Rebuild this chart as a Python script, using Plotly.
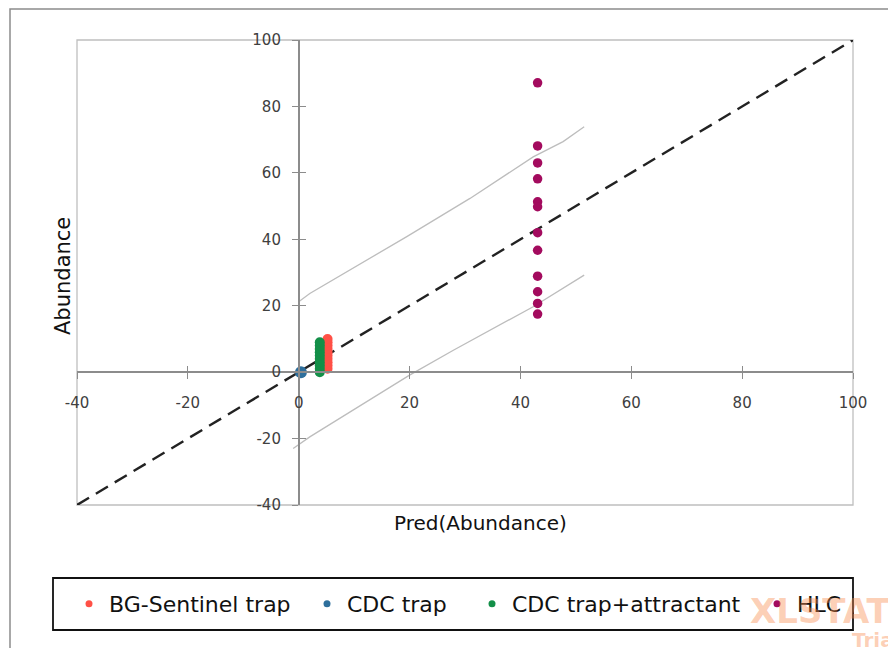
import plotly.graph_objects as go

# ---- data ----
bg_x = [5.2] * 10
bg_y = [1, 2, 3, 4, 5, 6, 7, 8, 9, 10]
cdc_x = [0.4]
cdc_y = [0]
cdca_x = [3.8] * 10
cdca_y = [0, 1, 2, 3, 4, 5, 6, 7, 8, 9]
hlc_y = [87.1, 68.1, 63.0, 58.2, 51.3, 49.8, 42.0, 36.7, 28.9, 24.2, 20.7, 17.5]
hlc_x = [43.1] * len(hlc_y)

upper_x = [0, 2, 19.5, 30.9, 42.3, 47.7, 51.5]
upper_y = [21.2, 23.7, 40.8, 52.3, 64.8, 69.4, 73.9]
lower_x = [-1, 2, 20, 27.9, 42.3, 51.5]
lower_y = [-23, -19.5, -0.9, 6.6, 19.7, 29.2]

diag = [-40, 100]
tick_vals = [-40, -20, 0, 20, 40, 60, 80, 100]
tick_text = ["-40", "-20", "0", "20", "40", "60", "80", "100"]

series_names = ["BG-Sentinel trap", "CDC trap", "CDC trap+attractant", "HLC"]
series_colors = ["#FF5046", "#2E6F9C", "#138F48", "#A30B5E"]

FONT = "DejaVu Sans"
pos0 = 40 / 140

# page is drawn with an 8px body margin, so the figure is 8px smaller
W, H = 888, 640
ML, MT = 69, 32
PW, PH = 776, 465


def px(xp):  # page x -> paper
    return (xp - 77) / PW


def py(yp):  # page y -> paper
    return (505 - yp) / PH


fig = go.Figure()

fig.add_trace(go.Scatter(x=upper_x, y=upper_y, mode="lines",
                         line=dict(color="#BDBDBD", width=1.3), showlegend=False, hoverinfo="skip"))
fig.add_trace(go.Scatter(x=lower_x, y=lower_y, mode="lines",
                         line=dict(color="#BDBDBD", width=1.3), showlegend=False, hoverinfo="skip"))
fig.add_trace(go.Scatter(x=diag, y=diag, mode="lines",
                         line=dict(color="#222222", width=2.4, dash="14px,8px"), showlegend=False))

data_sets = [(bg_x, bg_y, 10), (cdc_x, cdc_y, 12), (cdca_x, cdca_y, 10), (hlc_x, hlc_y, 9.5)]
legend_ids = ["legend", "legend2", "legend3", "legend4"]
for (xs, ys, sz), name, col, lid in zip(data_sets, series_names, series_colors, legend_ids):
    fig.add_trace(go.Scatter(x=xs, y=ys, mode="markers", name=name,
                             marker=dict(color=col, size=sz), showlegend=False))
    # legend entry with small marker
    fig.add_trace(go.Scatter(x=[None], y=[None], mode="markers", name=name,
                             marker=dict(color=col, size=7), legend=lid, showlegend=True))

# invisible trace for overlay axes (crossing ticks)
fig.add_trace(go.Scatter(x=[0], y=[0], xaxis="x2", yaxis="y2", mode="markers",
                         marker=dict(opacity=0), showlegend=False, hoverinfo="skip"))

axis_common = dict(range=[-40, 100], tickvals=tick_vals, ticktext=tick_text,
                   showgrid=False, zeroline=False,
                   showline=True, linecolor="#8C8C8C", linewidth=1.5,
                   ticks="outside", ticklen=6, tickcolor="#8C8C8C", tickwidth=1.3,
                   tickfont=dict(family=FONT, size=15, color="#404040"))
over_common = dict(range=[-40, 100], tickvals=tick_vals, anchor="free", position=pos0,
                   showticklabels=False, showgrid=False, zeroline=False, showline=False,
                   ticks="inside", ticklen=6, tickcolor="#8C8C8C", tickwidth=1.3)

legend_x_page = [69, 307, 472, 757]
leg_common = dict(orientation="h", xanchor="left", y=py(604), yanchor="middle",
                  font=dict(family=FONT, size=22, color="#111111"),
                  bgcolor="rgba(0,0,0,0)", borderwidth=0)

fig.update_layout(
    width=W, height=H,
    margin=dict(l=ML, r=W - ML - PW, t=MT, b=H - MT - PH, autoexpand=False),
    paper_bgcolor="white", plot_bgcolor="white",
    xaxis=dict(**axis_common, anchor="free", position=pos0, ticklabelstandoff=11),
    yaxis=dict(**axis_common, anchor="free", position=pos0, ticklabelstandoff=8),
    xaxis2=dict(**over_common, overlaying="x"),
    yaxis2=dict(**over_common, overlaying="y"),
    showlegend=True,
    legend=dict(**leg_common, x=px(legend_x_page[0])),
    legend2=dict(**leg_common, x=px(legend_x_page[1])),
    legend3=dict(**leg_common, x=px(legend_x_page[2])),
    legend4=dict(**leg_common, x=px(legend_x_page[3])),
    shapes=[
        dict(type="rect", xref="paper", yref="paper", x0=0, x1=1, y0=0, y1=1,
             line=dict(color="#BFBFBF", width=1.3), layer="below"),
        dict(type="rect", xref="paper", yref="paper", x0=px(10), x1=px(910), y0=py(700), y1=py(9),
             line=dict(color="#8C8C8C", width=1.5)),
        dict(type="rect", xref="paper", yref="paper", x0=px(53), x1=px(853), y0=py(630), y1=py(578),
             line=dict(color="#111111", width=1.8)),
    ],
    annotations=[
        dict(text="Abundance", xref="paper", yref="paper", x=px(63), y=py(276),
             xanchor="center", yanchor="middle",
             textangle=-90, showarrow=False, font=dict(family=FONT, size=21, color="#111111")),
        dict(text="Pred(Abundance)", xref="paper", yref="paper", x=px(480), y=py(523),
             xanchor="center", yanchor="middle",
             showarrow=False, font=dict(family=FONT, size=20, color="#111111")),
        dict(text="<b>XLSTAT</b>", xref="paper", yref="paper", x=px(748),
             y=py(611), xanchor="left", yanchor="middle", showarrow=False,
             font=dict(family=FONT, size=34, color="rgba(250,140,80,0.42)")),
        dict(text="<b>Trial</b>", xref="paper", yref="paper", x=px(850),
             y=py(640), xanchor="left", yanchor="middle", showarrow=False,
             font=dict(family=FONT, size=20, color="rgba(250,140,80,0.42)")),
    ],
)

fig.write_html("out.html")
